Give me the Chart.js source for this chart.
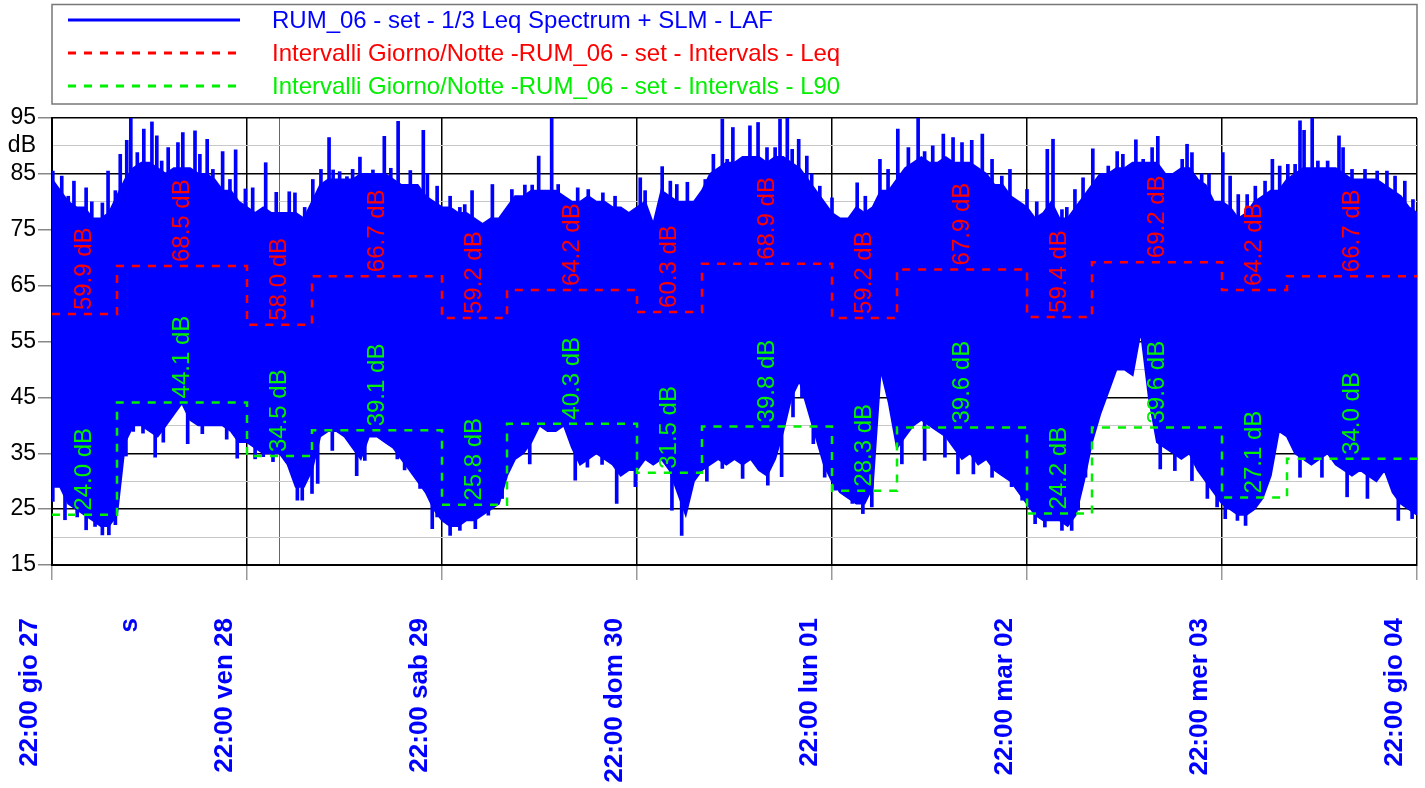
<!DOCTYPE html>
<html>
<head>
<meta charset="utf-8">
<script src="https://cdn.jsdelivr.net/npm/chart.js@4.4.1/dist/chart.umd.min.js"></script>
<style>
    html, body { margin: 0; padding: 0; background: #fff; }
    #wrap { width: 1425px; height: 788px; }
</style>
</head>
<body>
<div id="wrap"><canvas id="chart" width="1425" height="788"></canvas></div>
<script>
// x is hours since 22:00 gio 27
const xTickValues = [0, 12.3, 24, 28, 48, 72, 96, 120, 144, 168];
const xTickLabels = ['22:00 gio 27', 's', '22:00 ven 28', '', '22:00 sab 29', '22:00 dom 30',
    '22:00 lun 01', '22:00 mar 02', '22:00 mer 03', '22:00 gio 04'];
const yTickValues = [15, 20, 25, 30, 35, 40, 45, 50, 55, 60, 65, 70, 75, 80, 85, 90, 95];

// LAF band, one value per hour: top and bottom of the solid blue body
const lafUpper = [
    84, 82, 80, 79, 79, 77, 77, 78, 81,
    84, 86, 87, 87, 86, 85, 86, 86, 86, 85, 85, 84, 82, 82, 80, 79,
    78, 79, 78, 78, 78, 78, 77, 80,
    83, 84, 84, 84, 84, 85, 85, 85, 85, 84, 83, 83, 83, 81, 80, 79,
    79, 78, 78, 77, 76, 77, 77, 79,
    81, 81, 82, 82, 82, 82, 81, 80, 80, 81, 80, 80, 79, 79, 78, 79,
    80, 76, 82, 81, 80, 80, 80, 82,
    85, 86, 87, 87, 88, 88, 88, 87, 88, 88, 87, 86, 84, 82, 80, 78,
    77, 77, 79, 78, 79, 82, 82, 84,
    86, 87, 88, 87, 87, 88, 87, 87, 87, 86, 85, 83, 83, 81, 80, 79,
    77, 78, 80, 77, 77, 79, 81, 83,
    85, 85, 86, 86, 87, 87, 87, 87, 85, 85, 86, 86, 84, 83, 80, 80,
    79, 77, 78, 80, 81, 82, 82, 84,
    85, 86, 86, 86, 86, 86, 85, 84, 84, 84, 84, 83, 82, 81, 79, 78
];
const lafLower = [
    29, 29, 26, 25, 24, 23, 22, 22, 24,
    37, 40, 40, 39, 38, 40, 42, 44, 41, 40, 40, 40, 40, 39, 37, 37,
    36, 35, 35, 35, 33, 29, 29, 32,
    38, 39, 39, 38, 36, 34, 38, 38, 37, 36, 34, 32, 30, 28, 25, 23,
    22, 22, 23, 23, 24, 25, 26, 31,
    34, 35, 37, 40, 39, 39, 40, 36, 33, 34, 35, 34, 33, 31, 32, 32,
    34, 33, 34, 32, 28, 24, 30, 32,
    33, 34, 33, 34, 33, 34, 32, 31, 34, 39, 45, 48, 43, 38, 33, 30,
    28, 27, 26, 26, 29, 50, 44, 36,
    38, 40, 41, 40, 39, 38, 36, 34, 35, 33, 34, 32, 31, 30, 28, 26,
    24, 23, 23, 23, 22, 24, 30, 37,
    42, 46, 50, 50, 49, 57, 45, 37, 36, 35, 34, 35, 32, 30, 28, 26,
    25, 24, 24, 25, 27, 31, 39, 38,
    35, 34, 33, 34, 35, 33, 32, 31, 32, 31, 30, 32, 28, 26, 25, 24
];

// single LAF peaks above the body (hour, dB)
const peakHours = [
    0.1, 1.2, 2.0, 2.7, 4.2, 4.9, 6.2, 6.9, 7.8, 8.4, 9.2, 9.7, 10.5, 11.3, 12.3, 12.9, 13.5, 14.3,
    14.9, 15.5, 16.1, 16.7, 17.6, 18.2, 19.1, 19.8, 21.0, 21.9, 22.6, 23.8, 24.7, 26.3, 27.6, 29.2,
    29.9, 31.1, 32.1, 33.1, 34.1, 34.6, 35.4, 36.3, 37.0, 37.9, 38.6, 39.5, 40.9, 41.7, 42.6, 44.1,
    45.7, 46.2, 47.4, 49.0, 50.2, 50.8, 51.7, 54.2, 56.6, 58.2, 59.1, 59.9, 61.5, 62.3, 64.7, 66.0,
    67.8, 69.3, 72.4, 73.0, 75.1, 76.1, 76.9, 78.2, 80.4, 81.4, 82.5, 83.1, 83.8, 85.9, 86.9, 88.0,
    89.0, 89.6, 90.5, 91.1, 91.9, 92.9, 93.5, 94.5, 96.0, 99.1, 100.1, 101.9, 102.9, 104.1, 105.4, 106.6,
    107.4, 108.4, 109.7, 110.9, 112.0, 113.2, 114.5, 115.7, 116.9, 117.9, 120.0, 121.2, 122.5, 123.2, 124.3, 124.9,
    125.9, 126.9, 128.1, 130.0, 131.1, 131.8, 133.4, 134.3, 135.4, 136.1, 139.1, 139.7, 140.3, 141.5, 142.4, 144.1,
    145.0, 146.0, 147.1, 148.1, 149.3, 150.2, 151.1, 152.1, 153.0, 153.6, 154.1, 155.1, 155.8, 157.0, 158.4, 158.9,
    160.0, 161.6, 163.1, 164.3, 165.3, 166.5, 167.5
];
const peakLevels = [
    85.5, 84.6, 81, 83.7, 82.5, 80, 79.8, 85.5, 82, 88.5, 91, 95, 88.8, 93, 94.3, 91.8, 87.3, 89.7,
    85.5, 90.6, 92.4, 86, 92.7, 88.5, 91.2, 85.8, 89, 84, 89.3, 82.3, 82.5, 87, 81.7, 81.8,
    81.6, 79, 84, 85.8, 91.5, 85.7, 85.4, 84.5, 85.8, 88, 82.7, 85.7, 91.7, 86, 94.4, 85.6,
    92.8, 85, 82.8, 81, 79, 79.5, 82, 83.1, 82.2, 83, 83, 88.2, 95, 83.1, 82.5, 82.2,
    81.6, 81, 84.3, 82, 86.3, 83.7, 83.1, 83.5, 84, 88.5, 94.8, 87.6, 93.3, 93.6, 94.2, 89.7,
    89.7, 94.8, 95, 89.4, 91.2, 88.2, 85, 82.8, 80.7, 83.4, 81, 87.6, 85.8, 93, 89.7, 95,
    89, 90, 92.1, 91.5, 90.6, 91, 92.1, 87.6, 84.6, 85.8, 82.2, 80, 89.4, 91.2, 78.6, 79,
    82.2, 84.3, 89.5, 86.4, 89, 88.5, 91.1, 87.6, 89.7, 91.7, 87.6, 90.3, 88.8, 85, 85, 88.8,
    84.6, 81.3, 81.3, 82.8, 83.7, 87.6, 86.4, 86.7, 86.7, 94.5, 92.8, 95, 87.3, 87.3, 91.8, 89.7,
    85.8, 85.8, 85.5, 85.5, 84.6, 83.7, 80.4
];

// single LAF dips below the body (hour, dB)
const dipHours = [
    0.1, 1.6, 3.1, 4.2, 5.3, 6.2, 7.0, 7.8, 9.1, 10.0, 11.2, 12.7, 13.7, 16.7, 18.5, 21.5, 22.8, 25.0,
    26.0, 27.2, 30.2, 30.8, 32.0, 32.7, 34.5, 37.5, 38.5, 42.5, 43.4, 45.3, 46.8, 47.4, 49.0, 50.2,
    52.1, 53.7, 55.4, 58.8, 64.4, 65.9, 67.7, 69.5, 71.8, 76.3, 77.5, 80.6, 82.5, 85.0, 88.1, 89.8,
    91.2, 92.3, 93.7, 95.1, 96.4, 98.5, 99.8, 100.9, 104.6, 107.4, 109.9, 111.5, 113.4, 115.7, 118.1, 119.4,
    121.0, 122.2, 124.3, 125.5, 126.3, 127.2, 136.4, 138.2, 140.3, 142.2, 143.4, 144.4, 145.9, 146.9, 153.6, 156.3,
    159.4, 161.9, 165.7, 167.4
];
const dipLevels = [
    26.4, 23.1, 23.6, 21.3, 21.9, 20.4, 20.4, 22.2, 34.5, 38.9, 38.6, 34.3, 37, 36.7, 38.5, 37.5, 34.1, 34,
    34.4, 33.5, 26.6, 26.6, 27.8, 29.6, 35.5, 31, 33.7, 34, 32, 28.7, 21.5, 23.6, 20.3, 21.2,
    21.5, 23.9, 26.9, 33.1, 30.2, 32.5, 33, 26, 29, 24.8, 20.3, 30, 32.3, 30.5, 29.3, 30.8,
    41.5, 45, 36.7, 30.7, 28.4, 26, 24.2, 25.4, 33.1, 33.7, 34.3, 31.3, 31.3, 30.7, 29, 26.6,
    22.4, 21.8, 21.2, 21.2, 24.8, 30.7, 32.2, 31.9, 30.1, 26.9, 25.4, 23.3, 23, 22.1, 30.7, 30.7,
    27.2, 26.9, 23, 23.3
];

// day/night intervals (night 22-06, day 06-22)
const intervalStarts = [0, 8, 24, 32, 48, 56, 72, 80, 96, 104, 120, 128, 144, 152];
const intervalEnd = 168;
const leqValues = [59.9, 68.5, 58.0, 66.7, 59.2, 64.2, 60.3, 68.9, 59.2, 67.9, 59.4, 69.2, 64.2, 66.7];
const l90Values = [24.0, 44.1, 34.5, 39.1, 25.8, 40.3, 31.5, 39.8, 28.3, 39.6, 24.2, 39.6, 27.1, 34.0];

const FONT = "'Liberation Sans', Arial, sans-serif";
const BLUE = '#0000ff';
const RED = '#ff0000';
const GREEN = '#00f000';
const BODY_MID = 65; // spikes are drawn from inside the band

function stepPoints(values) {
    const pts = intervalStarts.map((s, i) => ({ x: s, y: values[i] }));
    pts.push({ x: intervalEnd, y: values[values.length - 1] });
    return pts;
}

const upperPts = lafUpper.map((v, i) => ({ x: i, y: v }));
const lowerPts = lafLower.map((v, i) => ({ x: i, y: v }));
const spikePts = peakHours.map((h, i) => ({ x: h, y: [BODY_MID, peakLevels[i]] }))
    .concat(dipHours.map((h, i) => ({ x: h, y: [dipLevels[i], BODY_MID] })));

// Legend drawn in a box above the plot
const legendBox = {
    id: 'legendBox',
    afterDraw(chart) {
        const ctx = chart.ctx;
        const items = [
            { ds: chart.data.datasets[2], y: 20 },
            { ds: chart.data.datasets[0], y: 53 },
            { ds: chart.data.datasets[1], y: 86 }
        ];
        ctx.save();
        ctx.strokeStyle = '#777';
        ctx.lineWidth = 1.5;
        ctx.strokeRect(52, 4.5, 1365, 99.5);
        ctx.font = '24px ' + FONT;
        ctx.textBaseline = 'middle';
        ctx.textAlign = 'left';
        items.forEach(it => {
            ctx.beginPath();
            ctx.setLineDash(it.ds.borderDash || []);
            ctx.strokeStyle = it.ds.borderColor;
            ctx.lineWidth = 3;
            ctx.moveTo(68, it.y);
            ctx.lineTo(240, it.y);
            ctx.stroke();
            ctx.setLineDash([]);
            ctx.fillStyle = it.ds.borderColor;
            ctx.fillText(it.ds.label, 272, it.y + 1);
        });
        ctx.restore();
    }
};

// Rotated value labels on each interval
const intervalLabels = {
    id: 'intervalLabels',
    afterDatasetsDraw(chart) {
        const ctx = chart.ctx;
        const xs = chart.scales.x;
        const ys = chart.scales.y;
        ctx.save();
        ctx.font = '24px ' + FONT;
        ctx.textAlign = 'left';
        ctx.textBaseline = 'middle';
        intervalStarts.forEach((s, i) => {
            const e = i + 1 < intervalStarts.length ? intervalStarts[i + 1] : intervalEnd;
            const cx = (xs.getPixelForValue(s) + xs.getPixelForValue(e)) / 2;
            [[leqValues[i], RED], [l90Values[i], GREEN]].forEach(([v, col]) => {
                ctx.save();
                ctx.translate(cx, ys.getPixelForValue(v) - 4);
                ctx.rotate(-Math.PI / 2);
                ctx.fillStyle = col;
                ctx.fillText(v.toFixed(1) + ' dB', 0, 0);
                ctx.restore();
            });
        });
        ctx.restore();
    }
};

new Chart(document.getElementById('chart'), {
    type: 'line',
    data: {
        datasets: [
            {
                label: 'Intervalli Giorno/Notte -RUM_06 - set - Intervals - Leq',
                data: stepPoints(leqValues),
                borderColor: RED,
                borderWidth: 2.5,
                borderDash: [8, 8],
                stepped: true,
                pointRadius: 0,
                fill: false,
                order: 0
            },
            {
                label: 'Intervalli Giorno/Notte -RUM_06 - set - Intervals - L90',
                data: stepPoints(l90Values),
                borderColor: GREEN,
                borderWidth: 2.5,
                borderDash: [8, 8],
                stepped: true,
                pointRadius: 0,
                fill: false,
                order: 0
            },
            {
                label: 'RUM_06 - set - 1/3 Leq Spectrum + SLM - LAF',
                data: upperPts,
                borderColor: BLUE,
                backgroundColor: BLUE,
                borderWidth: 2,
                pointRadius: 0,
                fill: '+1',
                order: 2
            },
            {
                label: 'LAF min',
                data: lowerPts,
                borderColor: BLUE,
                borderWidth: 2,
                pointRadius: 0,
                fill: false,
                order: 3
            },
            {
                type: 'bar',
                label: 'LAF spikes',
                data: spikePts,
                backgroundColor: BLUE,
                borderWidth: 0,
                barThickness: 3,
                order: 1
            }
        ]
    },
    options: {
        responsive: false,
        animation: false,
        devicePixelRatio: 1,
        layout: { padding: { top: 118, right: 8, left: 0, bottom: 0 } },
        plugins: {
            legend: { display: false },
            tooltip: { enabled: false }
        },
        scales: {
            x: {
                type: 'linear',
                min: 0,
                max: 168,
                offset: false,
                afterBuildTicks: axis => { axis.ticks = xTickValues.map(v => ({ value: v })); },
                afterFit: axis => {
                    axis.height = 223;
                    axis.paddingLeft = 0;
                    axis.paddingRight = 0;
                },
                border: { color: '#000', width: 2 },
                grid: {
                    offset: false,
                    color: c => c.tick && c.tick.value === 28 ? '#666' : (c.tick && c.tick.value % 24 === 0 ? '#000' : 'rgba(0,0,0,0)'),
                    lineWidth: c => c.tick && c.tick.value % 24 === 0 ? 1.5 : 1,
                    tickColor: c => c.tick && c.tick.value % 24 === 0 ? '#999' : 'rgba(0,0,0,0)',
                    tickLength: 15
                },
                ticks: {
                    autoSkip: false,
                    minRotation: 90,
                    maxRotation: 90,
                    labelOffset: -22,
                    padding: 38,
                    color: BLUE,
                    font: { family: FONT, size: 26, weight: 'bold' },
                    callback: v => {
                        const i = xTickValues.indexOf(v);
                        return i >= 0 ? xTickLabels[i] : '';
                    }
                }
            },
            y: {
                min: 15,
                max: 95,
                afterBuildTicks: axis => { axis.ticks = yTickValues.map(v => ({ value: v })); },
                afterFit: axis => { axis.width = 52; },
                border: { color: '#000', width: 2 },
                grid: {
                    color: c => c.tick && c.tick.value % 10 === 5 ? '#000' : '#c8c8c8',
                    lineWidth: c => c.tick && c.tick.value % 10 === 5 ? 1.5 : 1,
                    tickColor: c => c.tick && c.tick.value % 10 === 5 ? '#888' : 'rgba(0,0,0,0)',
                    tickLength: 14
                },
                ticks: {
                    autoSkip: false,
                    padding: 2,
                    color: '#000',
                    font: { family: FONT, size: 23 },
                    callback: v => v % 10 === 5 ? String(v) : (v === 90 ? 'dB' : '')
                }
            }
        }
    },
    plugins: [legendBox, intervalLabels]
});
</script>
</body>
</html>
